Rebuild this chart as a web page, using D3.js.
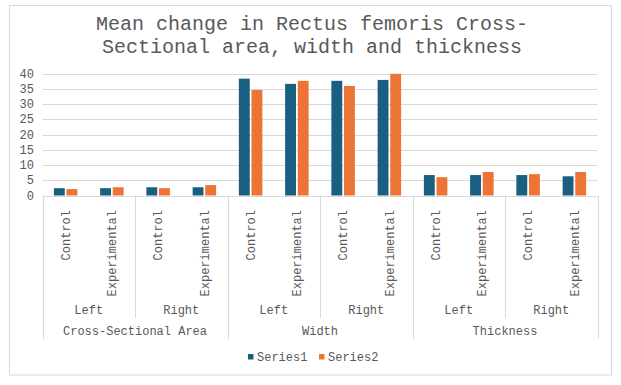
<!DOCTYPE html>
<html lang="en">
<meta charset="UTF-8">
<title>Mean change in Rectus femoris</title>
<script src="https://d3js.org/d3.v7.min.js"></script>
<style>
  body { margin: 0; background: #fff; }
  svg text { font-family: "Courier New", "FreeMono", "Nimbus Mono PS", "Liberation Mono", monospace; fill: #595959; }
</style>
<body>
<svg id="chart" width="621" height="385"></svg>
<script>
// data
const measures = ["Cross-Sectional Area", "Width", "Thickness"];
const sides = ["Left", "Right"];
const groups = ["Control", "Experimental"];
const seriesNames = ["Series1", "Series2"];
const series1 = [2.4, 2.4, 2.7, 2.7, 38.3, 36.6, 37.6, 37.9, 6.7, 6.7, 6.7, 6.3];
const series2 = [2.1, 2.7, 2.4, 3.4, 34.6, 37.6, 35.9, 39.9, 6.0, 7.7, 7.0, 7.7];
const yTicks = [0, 5, 10, 15, 20, 25, 30, 35, 40];
const colors = ["#185f82", "#ec7434"];

// build the flat category list
const cats = [];
measures.forEach(m => sides.forEach(s => groups.forEach(g => cats.push({m, s, g}))));
cats.forEach((c, i) => { c.id = i; c.v = [series1[i], series2[i]]; });

const svg = d3.select("#chart");
const plotL = 42.5, plotR = 597.5, plotT = 73.5, plotB = 195.5;

// chart border
svg.append("rect").attr("x", 9.5).attr("y", 5.5).attr("width", 602).attr("height", 369.5)
  .attr("fill", "#fff").attr("stroke", "#d9d9d9");

// title
svg.append("text").attr("x", 312).attr("y", 30).attr("text-anchor", "middle")
  .style("font-size", "20px").text("Mean change in Rectus femoris Cross-");
svg.append("text").attr("x", 312).attr("y", 53).attr("text-anchor", "middle")
  .style("font-size", "20px").text("Sectional area, width and thickness");

const x = d3.scaleBand().domain(cats.map(c => c.id)).range([plotL, plotR]);
const y = d3.scaleLinear().domain([0, 40]).range([plotB, plotT]);
const xs = d3.scaleBand().domain([0, 1]).range([0, 23.5]).paddingInner(0.14);

// gridlines
svg.append("g").selectAll("line").data(yTicks).join("line")
  .attr("x1", plotL).attr("x2", plotR)
  .attr("y1", d => Math.round(y(d)) + 0.5).attr("y2", d => Math.round(y(d)) + 0.5)
  .attr("stroke", "#d9d9d9");

// y axis labels
svg.append("g").selectAll("text").data(yTicks).join("text")
  .attr("x", 34).attr("y", d => y(d)).attr("dy", "0.35em")
  .attr("text-anchor", "end").style("font-size", "12px").text(d => d);

// bars
const cg = svg.append("g").selectAll("g").data(cats).join("g")
  .attr("transform", c => `translate(${x(c.id) + (x.bandwidth() - 23.5) / 2},0)`);
cg.selectAll("rect").data(c => c.v.map((v, k) => ({v, k}))).join("rect")
  .attr("x", d => xs(d.k)).attr("width", xs.bandwidth())
  .attr("y", d => y(d.v)).attr("height", d => y(0) - y(d.v))
  .attr("fill", d => colors[d.k]);

// category axis separators
const step = x.step();
const seps = d3.range(0, cats.length + 1, 2);
svg.append("g").selectAll("line").data(seps).join("line")
  .attr("x1", i => Math.round(plotL + i * step) + 0.5).attr("x2", i => Math.round(plotL + i * step) + 0.5)
  .attr("y1", plotB).attr("y2", i => i % 4 === 0 ? 339 : 318)
  .attr("stroke", "#d9d9d9");

// level 1 labels (rotated)
svg.append("g").selectAll("text").data(cats).join("text")
  .attr("transform", c => `translate(${x(c.id) + x.bandwidth() / 2},210) rotate(-90)`)
  .attr("text-anchor", "end").attr("dy", "0.35em")
  .style("font-size", "12px").text(c => c.g);

// level 2 labels
const subs = cats.filter((c, i) => i % 2 === 0);
svg.append("g").selectAll("text").data(subs).join("text")
  .attr("x", c => x(c.id) + step).attr("y", 310).attr("dy", "0.35em")
  .attr("text-anchor", "middle").style("font-size", "12px").text(c => c.s);

// level 3 labels
svg.append("g").selectAll("text").data(measures).join("text")
  .attr("x", (m, i) => plotL + (i * 4 + 2) * step).attr("y", 331).attr("dy", "0.35em")
  .attr("text-anchor", "middle").style("font-size", "12px").text(m => m);

// legend
const lg = svg.append("g").selectAll("g").data(seriesNames).join("g")
  .attr("transform", (d, i) => `translate(${248 + i * 71},354)`);
lg.append("rect").attr("width", 5.5).attr("height", 5.5).attr("fill", (d, i) => colors[i]);
lg.append("text").attr("x", 9).attr("y", 2.5).attr("dy", "0.35em")
  .style("font-size", "12px").text(d => d);
</script>
</body>
</html>
